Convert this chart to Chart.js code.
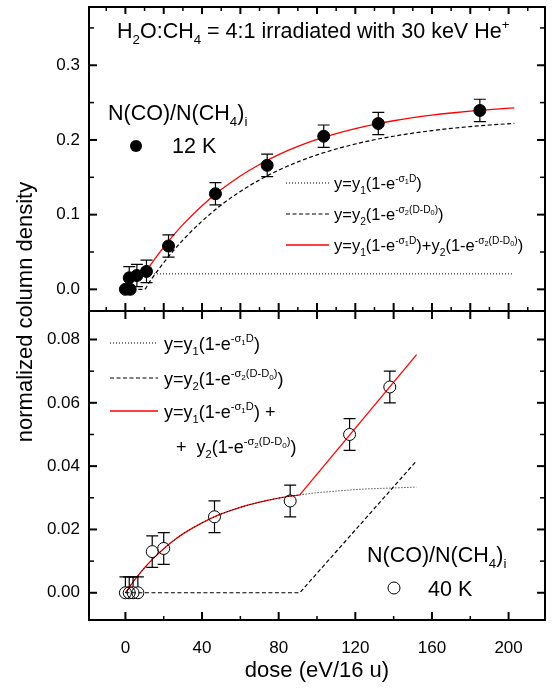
<!DOCTYPE html>
<html>
<head>
<meta charset="utf-8">
<script src="https://cdn.jsdelivr.net/npm/chart.js@4"></script>
<style>
  body { margin: 0; background: #fff; }
  #wrap { position: relative; width: 553px; height: 693px; }
  #wrap canvas { position: absolute; left: 0; top: 0; }
</style>
</head>
<body>
<div id="wrap">
  <canvas id="topChart" width="553" height="693"></canvas>
  <canvas id="bottomChart" width="553" height="693"></canvas>
</div>
<script>
const FONT = '"Liberation Sans", Arial, Helvetica, sans-serif'

// shared dose axis
const doseMin = -19
const doseMax = 219
const doseLabels = [0, 40, 80, 120, 160, 200]
const doseMinor = [20, 60, 100, 140, 180]
const doseTopMajor = [0, 20, 40, 60, 80, 100, 120, 140, 160, 180, 200]
const doseTopMinor = [-10, 10, 30, 50, 70, 90, 110, 130, 150, 170, 190, 210]

// top panel (12 K)
const topMin = -0.029
const topMax = 0.378
const topLabels = [0, 0.1, 0.2, 0.3]
const topMinor = [0.05, 0.15, 0.25, 0.35]

const dose12 = [0, 2.5, 2, 6, 11, 22.5, 47, 74, 103.5, 132, 185]
const col12 = [0, 0, 0.0155, 0.0185, 0.024, 0.058, 0.128, 0.166, 0.205, 0.222, 0.2395]
const err12 = [0, 0, 0.015, 0.015, 0.015, 0.015, 0.015, 0.015, 0.015, 0.015, 0.015]

const fit1Dose12 = [0, 1, 2, 3, 4, 6, 8, 10, 15, 202]
const fit1Val12 = [0, 0.007, 0.011, 0.014, 0.016, 0.0185, 0.0198, 0.0204, 0.0207, 0.0207]

const fit2Dose12 = [0, 10, 12, 15, 20, 25, 30, 40, 50, 60, 70, 80, 90, 100, 110, 120, 130, 140, 150, 160, 170, 180, 190, 203]
const fit2Val12 = [0, 0, 0.0078, 0.0187, 0.0358, 0.0515, 0.0659, 0.0913, 0.1129, 0.1311, 0.1465, 0.1596, 0.1706, 0.18, 0.1879, 0.1946, 0.2003, 0.205, 0.2091, 0.2125, 0.2154, 0.2179, 0.22, 0.2222]

const sumDose12 = [0, 1, 2, 3, 4, 6, 8, 10, 12, 15, 20, 25, 30, 40, 50, 60, 70, 80, 90, 100, 110, 120, 130, 140, 150, 160, 170, 180, 190, 203]
const sumVal12 = [0, 0.007, 0.011, 0.014, 0.016, 0.0185, 0.0198, 0.0204, 0.0285, 0.0394, 0.0565, 0.0722, 0.0866, 0.112, 0.1336, 0.1518, 0.1672, 0.1803, 0.1913, 0.2007, 0.2086, 0.2153, 0.221, 0.2257, 0.2298, 0.2332, 0.2361, 0.2386, 0.2407, 0.2429]

// bottom panel (40 K)
const botMin = -0.0086
const botMax = 0.089
const botLabels = [0, 0.02, 0.04, 0.06, 0.08]
const botMinor = [0.01, 0.03, 0.05, 0.07]

const dose40 = [0, 2, 4, 6.5, 14, 20, 46.5, 86, 117, 138]
const col40 = [0, 0, 0, 0, 0.013, 0.014, 0.024, 0.029, 0.05, 0.065]
const err40Up = [0.005, 0.005, 0.005, 0.005, 0.005, 0.005, 0.005, 0.005, 0.005, 0.005]
const err40Down = [0, 0, 0, 0, 0.005, 0.005, 0.005, 0.005, 0.005, 0.005]

const fit1Dose40 = [0, 5, 10, 15, 20, 25, 30, 40, 50, 60, 70, 80, 91, 100, 110, 120, 130, 140, 152]
const fit1Val40 = [0, 0.0042, 0.0079, 0.0111, 0.0139, 0.0164, 0.0186, 0.0221, 0.0249, 0.027, 0.0286, 0.0299, 0.0309, 0.0316, 0.0321, 0.0326, 0.0329, 0.0331, 0.0334]

const fit2Dose40 = [0, 91, 152]
const fit2Val40 = [0, 0, 0.0417]

const sumDose40a = [0, 5, 10, 15, 20, 25, 30, 40, 50, 60, 70, 80, 91]
const sumVal40a = [0, 0.0042, 0.0079, 0.0111, 0.0139, 0.0164, 0.0186, 0.0221, 0.0249, 0.027, 0.0286, 0.0299, 0.0309]
const sumDose40b = [91, 152]
const sumVal40b = [0.0309, 0.0752]

function pts(xs, ys) {
  return xs.map((x, i) => ({ x: x, y: ys[i] }))
}

// text with sub/superscripts: n normal, b sub, p sup, q sub inside sup
function drawRich(ctx, x, y, parts, size) {
  const spec = {
    n: [1, 0],
    b: [0.62, 0.28],
    p: [0.62, -0.42],
    q: [0.45, -0.3]
  }
  ctx.save()
  ctx.fillStyle = '#000'
  ctx.textAlign = 'left'
  ctx.textBaseline = 'alphabetic'
  parts.forEach(p => {
    const s = spec[p[1]]
    ctx.font = (size * s[0]) + 'px ' + FONT
    ctx.fillText(p[0], x, y + size * s[1])
    x += ctx.measureText(p[0]).width
  })
  ctx.restore()
}

const eq1 = [['y=y', 'n'], ['1', 'b'], ['(1-e', 'n'], ['-σ', 'p'], ['1', 'q'], ['D', 'p'], [')', 'n']]
const eq2 = [['y=y', 'n'], ['2', 'b'], ['(1-e', 'n'], ['-σ', 'p'], ['2', 'q'], ['(D-D', 'p'], ['0', 'q'], [')', 'p'], [')', 'n']]
const eq2tail = [['y', 'n'], ['2', 'b'], ['(1-e', 'n'], ['-σ', 'p'], ['2', 'q'], ['(D-D', 'p'], ['0', 'q'], [')', 'p'], [')', 'n']]

function legendLine(ctx, x1, x2, y, color, width, dash) {
  ctx.save()
  ctx.strokeStyle = color
  ctx.lineWidth = width
  ctx.setLineDash(dash)
  ctx.beginPath()
  ctx.moveTo(x1, y)
  ctx.lineTo(x2, y)
  ctx.stroke()
  ctx.restore()
}

// frame with inward ticks, positions from the chart scales
function drawFrame(chart, t) {
  const ctx = chart.ctx
  const a = chart.chartArea
  const xs = chart.scales.x
  const ys = chart.scales.y
  ctx.save()
  ctx.strokeStyle = '#000'
  ctx.setLineDash([])
  ctx.lineWidth = 2
  ctx.strokeRect(a.left, a.top, a.right - a.left, a.bottom - a.top)
  function tick(x1, y1, x2, y2, w) {
    ctx.lineWidth = w
    ctx.beginPath()
    ctx.moveTo(x1, y1)
    ctx.lineTo(x2, y2)
    ctx.stroke()
  }
  t.yMajor.forEach(v => {
    const p = ys.getPixelForValue(v)
    tick(a.left, p, a.left + 8, p, 2)
    tick(a.right, p, a.right - 8, p, 2)
  })
  t.yMinor.forEach(v => {
    const p = ys.getPixelForValue(v)
    tick(a.left, p, a.left + 5, p, 1.5)
    tick(a.right, p, a.right - 5, p, 1.5)
  })
  t.topMajor.forEach(v => { const p = xs.getPixelForValue(v); tick(p, a.top, p, a.top + t.topMajorLen, 2) })
  t.topMinor.forEach(v => { const p = xs.getPixelForValue(v); tick(p, a.top, p, a.top + 4, 1.5) })
  t.botMajor.forEach(v => { const p = xs.getPixelForValue(v); tick(p, a.bottom, p, a.bottom - 8, 2) })
  t.botMinor.forEach(v => { const p = xs.getPixelForValue(v); tick(p, a.bottom, p, a.bottom - 4, 1.5) })
  ctx.restore()
}

function drawErrors(chart, dsIndex, up, down, r) {
  const ctx = chart.ctx
  const ys = chart.scales.y
  const meta = chart.getDatasetMeta(dsIndex)
  const data = chart.data.datasets[dsIndex].data
  ctx.save()
  ctx.strokeStyle = '#000'
  ctx.lineWidth = 1.2
  ctx.setLineDash([])
  meta.data.forEach((el, i) => {
    const v = data[i].y
    if (up[i] > 0) {
      const yt = ys.getPixelForValue(v + up[i])
      ctx.beginPath()
      ctx.moveTo(el.x, el.y - r)
      ctx.lineTo(el.x, yt)
      ctx.moveTo(el.x - 6, yt)
      ctx.lineTo(el.x + 6, yt)
      ctx.stroke()
    }
    if (down[i] > 0) {
      const yb = ys.getPixelForValue(v - down[i])
      ctx.beginPath()
      ctx.moveTo(el.x, el.y + r)
      ctx.lineTo(el.x, yb)
      ctx.moveTo(el.x - 6, yb)
      ctx.lineTo(el.x + 6, yb)
      ctx.stroke()
    }
  })
  ctx.restore()
}

Chart.defaults.color = '#000'
Chart.defaults.font.family = FONT
Chart.defaults.animation = false

function lineSet(xs, ys, color, width, dash, tension) {
  return {
    data: pts(xs, ys),
    showLine: true,
    borderColor: color,
    borderWidth: width,
    borderDash: dash,
    pointRadius: 0,
    cubicInterpolationMode: tension ? 'monotone' : 'default',
    tension: 0
  }
}

function yScale(min, max, labels, digits) {
  return {
    type: 'linear',
    min: min,
    max: max,
    afterBuildTicks: s => { s.ticks = labels.map(v => ({ value: v })) },
    afterFit: s => {
      s.width = 89
      s.paddingTop = 0
      s.paddingBottom = 0
    },
    grid: { display: false, drawTicks: false },
    border: { display: false },
    ticks: {
      autoSkip: false,
      padding: 9,
      font: { size: 17 },
      callback: v => v.toFixed(digits)
    }
  }
}

const topPlugin = {
  id: 'topPlugin',
  afterDatasetsDraw(chart) {
    drawErrors(chart, 0, err12, err12, 0)
  },
  afterDraw(chart) {
    const ctx = chart.ctx
    drawFrame(chart, {
      yMajor: topLabels, yMinor: topMinor,
      topMajor: doseTopMajor, topMinor: doseTopMinor, topMajorLen: 7,
      botMajor: doseTopMajor, botMinor: doseTopMinor
    })
    drawRich(ctx, 117, 38, [['H', 'n'], ['2', 'b'], ['O:CH', 'n'], ['4', 'b'], [' = 4:1 irradiated with 30 keV He', 'n'], ['+', 'p']], 21.5)
    drawRich(ctx, 108, 120, [['N(CO)/N(CH', 'n'], ['4', 'b'], [')', 'n'], ['i', 'b']], 21.5)
    drawRich(ctx, 172, 153, [['12 K', 'n']], 21.5)
    ctx.save()
    ctx.fillStyle = '#000'
    ctx.beginPath()
    ctx.arc(136, 146, 6, 0, Math.PI * 2)
    ctx.fill()
    ctx.restore()
    legendLine(ctx, 286, 329, 183, '#000', 1, [1, 2])
    legendLine(ctx, 286, 329, 214, '#000', 1.2, [4, 2.5])
    legendLine(ctx, 286, 329, 245, '#ff0000', 1.3, [])
    drawRich(ctx, 334, 189, eq1, 16.5)
    drawRich(ctx, 334, 220, eq2, 16.5)
    drawRich(ctx, 334, 251, eq1.slice(0, 6).concat([[')+', 'n']], eq2tail), 16.5)
  }
}

new Chart(document.getElementById('topChart'), {
  type: 'scatter',
  data: {
    datasets: [
      {
        data: pts(dose12, col12),
        pointRadius: 6,
        pointBackgroundColor: '#000',
        pointBorderColor: '#000',
        showLine: false
      },
      lineSet(fit1Dose12, fit1Val12, '#000', 1, [1, 2], true),
      lineSet(fit2Dose12, fit2Val12, '#000', 1.2, [4, 2.5], true),
      lineSet(sumDose12, sumVal12, '#ff0000', 1.3, [], true)
    ]
  },
  options: {
    responsive: false,
    layout: { padding: { top: 3, right: 8, bottom: 382, left: 0 } },
    plugins: { legend: { display: false }, tooltip: { enabled: false } },
    scales: {
      x: { type: 'linear', min: doseMin, max: doseMax, display: false },
      y: yScale(topMin, topMax, topLabels, 1)
    }
  },
  plugins: [topPlugin]
})

const bottomPlugin = {
  id: 'bottomPlugin',
  afterDatasetsDraw(chart) {
    drawErrors(chart, 0, err40Up, err40Down, 6)
  },
  afterDraw(chart) {
    const ctx = chart.ctx
    drawFrame(chart, {
      yMajor: botLabels, yMinor: botMinor,
      topMajor: doseTopMajor, topMinor: [], topMajorLen: 8,
      botMajor: doseLabels, botMinor: doseMinor
    })
    legendLine(ctx, 110, 158, 343, '#000', 1, [1, 2])
    legendLine(ctx, 110, 158, 378, '#000', 1.2, [4, 2.5])
    legendLine(ctx, 110, 158, 411, '#ff0000', 1.3, [])
    drawRich(ctx, 164, 350, eq1, 18)
    drawRich(ctx, 164, 385, eq2, 18)
    drawRich(ctx, 164, 418, eq1.concat([[' +', 'n']]), 18)
    drawRich(ctx, 176, 453, [['+  ', 'n']].concat(eq2tail), 18)
    drawRich(ctx, 367, 562, [['N(CO)/N(CH', 'n'], ['4', 'b'], [')', 'n'], ['i', 'b']], 21.5)
    drawRich(ctx, 428, 596, [['40 K', 'n']], 21.5)
    ctx.save()
    ctx.strokeStyle = '#000'
    ctx.lineWidth = 1
    ctx.beginPath()
    ctx.arc(394, 588, 6, 0, Math.PI * 2)
    ctx.stroke()
    // y axis title for both panels
    ctx.translate(26, 312)
    ctx.rotate(-Math.PI / 2)
    ctx.fillStyle = '#000'
    ctx.textAlign = 'center'
    ctx.textBaseline = 'middle'
    ctx.font = '22px ' + FONT
    ctx.fillText('normalized column density', 0, 0)
    ctx.restore()
  }
}

new Chart(document.getElementById('bottomChart'), {
  type: 'scatter',
  data: {
    datasets: [
      {
        data: pts(dose40, col40),
        pointRadius: 6,
        pointBackgroundColor: 'rgba(0,0,0,0)',
        pointBorderColor: '#000',
        pointBorderWidth: 1,
        showLine: false
      },
      lineSet(fit1Dose40, fit1Val40, '#000', 1, [1, 2], true),
      lineSet(fit2Dose40, fit2Val40, '#000', 1.2, [4, 2.5], false),
      lineSet(sumDose40a, sumVal40a, '#ff0000', 1.3, [], true),
      lineSet(sumDose40b, sumVal40b, '#ff0000', 1.3, [], false)
    ]
  },
  options: {
    responsive: false,
    layout: { padding: { top: 311, right: 8, bottom: 0, left: 0 } },
    plugins: { legend: { display: false }, tooltip: { enabled: false } },
    scales: {
      x: {
        type: 'linear',
        min: doseMin,
        max: doseMax,
        afterBuildTicks: s => { s.ticks = doseLabels.map(v => ({ value: v })) },
        afterFit: s => {
          s.height = 73
          s.paddingLeft = 0
          s.paddingRight = 0
        },
        grid: { display: false, drawTicks: false },
        border: { display: false },
        ticks: { autoSkip: false, maxRotation: 0, padding: 18, font: { size: 17 } },
        title: { display: true, text: 'dose (eV/16 u)', font: { size: 22 }, padding: { top: 0, bottom: 9 } }
      },
      y: yScale(botMin, botMax, botLabels, 2)
    }
  },
  plugins: [bottomPlugin]
})
</script>
</body>
</html>
